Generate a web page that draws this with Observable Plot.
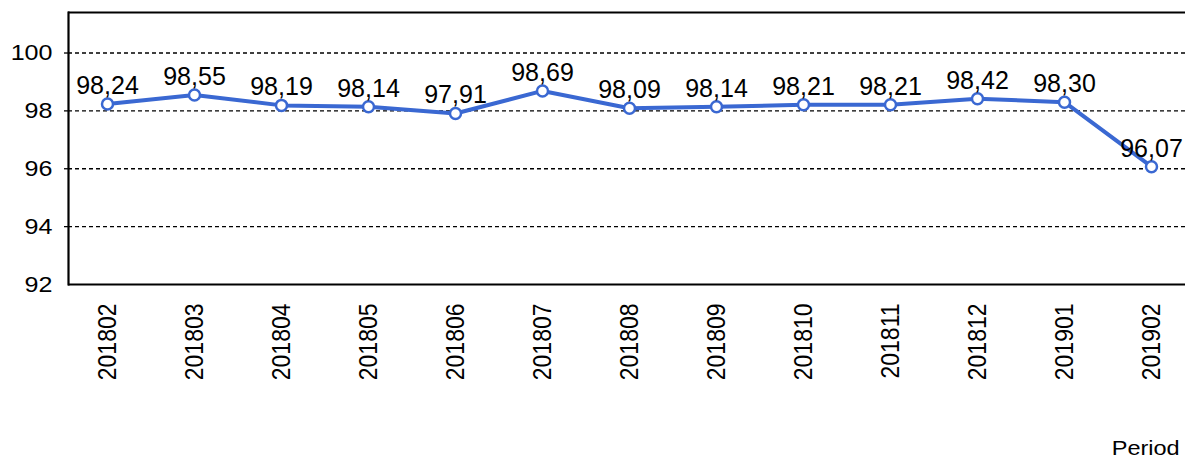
<!DOCTYPE html>
<html>
<head>
<meta charset="utf-8">
<script src="https://cdn.jsdelivr.net/npm/d3@7"></script>
<script src="https://cdn.jsdelivr.net/npm/@observablehq/plot@0.6"></script>
<style>
  html, body { margin: 0; padding: 0; background: #fff; }
  #wrap { position: relative; width: 1185px; height: 458px; font-family: "Liberation Sans", Arial, sans-serif; }
  #period { position: absolute; right: 5px; top: 437px; font-size: 21px; color: #000; line-height: 1; transform: scaleX(1.12); transform-origin: right center; }
</style>
</head>
<body>
<div id="wrap"><div id="chart"></div><div id="period">Period</div></div>
<script>
const periods = ["201802","201803","201804","201805","201806","201807","201808","201809","201810","201811","201812","201901","201902"];
const values = [98.24, 98.55, 98.19, 98.14, 97.91, 98.69, 98.09, 98.14, 98.21, 98.21, 98.42, 98.30, 96.07];
const yTicks = [92, 94, 96, 98, 100];
const gridTicks = [94, 96, 98, 100];
const yDomain = [92, 101.4];

const data = periods.map((p, i) => ({period: p, value: values[i], label: values[i].toFixed(2).replace(".", ",")}));
const blue = "#3A68D2";

const chart = Plot.plot({
  width: 1185,
  height: 458,
  marginTop: 12,
  marginBottom: 174,
  marginLeft: 68,
  marginRight: 0,
  style: {fontFamily: "'Liberation Sans', Arial, sans-serif", background: "#fff", color: "#000"},
  x: {type: "point", domain: periods, range: [107, 1151], padding: 0},
  y: {domain: yDomain},
  marks: [
    Plot.ruleY(gridTicks, {stroke: "#000", strokeWidth: 1.3, strokeDasharray: "4,3"}),
    Plot.ruleY([yDomain[0], yDomain[1]], {stroke: "#000", strokeWidth: 2.2}),
    Plot.frame({anchor: "left", stroke: "#000", strokeWidth: 2.2}),
    Plot.axisY({ticks: gridTicks, tickSize: 4, strokeWidth: 1.3, text: null, label: null}),
    Plot.axisY({ticks: yTicks, tickSize: 0, tickPadding: 16, fontSize: 22, label: null, tickFormat: d => String(d)}),
    Plot.axisX({tickRotate: -90, tickSize: 0, tickPadding: 19, fontSize: 23, label: null}),
    Plot.line(data, {x: "period", y: "value", stroke: blue, strokeWidth: 4}),
    Plot.dot(data, {x: "period", y: "value", r: 5.5, stroke: blue, strokeWidth: 2.5, fill: "#fff"}),
    Plot.text(data, {x: "period", y: "value", text: "label", dy: -10, lineAnchor: "bottom", fontSize: 25, fill: "#000"})
  ]
});

// widen axis tick labels horizontally (the reference text is slightly stretched)
function stretch(sel, sx, sy) {
  chart.querySelectorAll(sel).forEach(t => {
    let tx = 0, ty = 0;
    const num = /^-?\d*\.?\d+(e-?\d+)?$/;
    const x = t.getAttribute("x"), y = t.getAttribute("y");
    if (x != null && num.test(x)) { tx = +x; t.removeAttribute("x"); }
    if (y != null && num.test(y)) { ty = +y; t.removeAttribute("y"); }
    const tr = t.getAttribute("transform") || "";
    t.setAttribute("transform", `${tr} translate(${tx},${ty}) scale(${sx},${sy})`);
  });
}
stretch('g[aria-label="y-axis tick label"] text', 1.14, 1);
stretch('g[aria-label="x-axis tick label"] text', 1, 1.12);

document.getElementById("chart").appendChild(chart);
</script>
</body>
</html>
